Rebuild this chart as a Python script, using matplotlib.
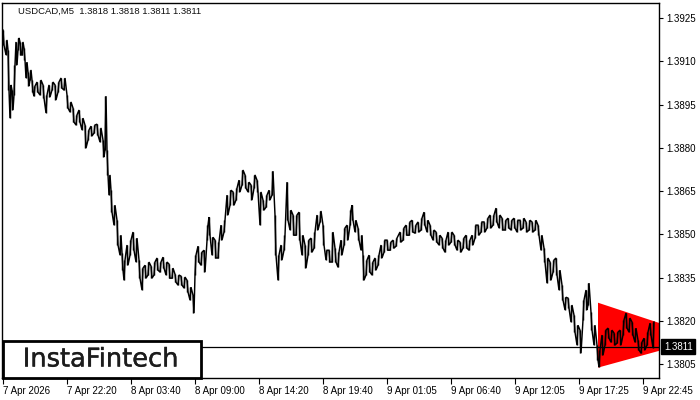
import matplotlib
matplotlib.use("Agg")
import matplotlib.pyplot as plt
from matplotlib.patches import Rectangle, Polygon
import matplotlib.patheffects as pe
import numpy as np

# ---------------- data ----------------
symbol_title = "USDCAD,M5  1.3818 1.3818 1.3811 1.3811"
bar = [0, 3, 5, 7, 9, 11, 13, 15, 17, 19, 21, 23, 25, 27, 29, 31, 34, 37, 40, 43,
       46, 49, 52, 55, 58, 61, 64, 67, 70, 73, 76, 79, 82, 85, 88, 91, 94, 97, 100, 102,
       104, 106, 108, 111, 114, 117, 119, 121, 124, 127, 130, 133, 136, 139, 142, 145, 148, 151, 154, 157,
       160, 163, 166, 169, 172, 175, 178, 181, 184, 187, 190, 192, 195, 198, 201, 204, 206, 209, 212, 215,
       218, 221, 224, 227, 230, 233, 236, 239, 242, 245, 248, 251, 254, 257, 260, 263, 266, 269, 272, 275,
       278, 281, 284, 287, 290, 293, 296, 299, 302, 305, 308, 311, 314, 317, 320, 323, 326, 329, 332, 335,
       338, 341, 344, 347, 349, 352, 355, 358, 360, 363, 366, 369, 372, 375, 378, 381, 384, 387, 390, 393,
       397, 400, 403, 406, 409, 412, 415, 418, 421, 424, 427, 430, 433, 436, 439, 442, 445, 448, 451, 454,
       457, 460, 463, 466, 469, 472, 475, 478, 481, 484, 487, 490, 493, 496, 499, 502, 505, 508, 511, 514,
       517, 520, 523, 526, 529, 532, 535, 538, 541, 544, 547, 550, 553, 556, 559, 562, 565, 568, 571, 574,
       577, 580, 583, 585, 588, 591, 594, 596, 599, 602, 605, 608, 611, 614, 617, 620, 623, 626, 629, 632,
       635, 638, 641, 644, 647, 650]
high = [1.39208, 1.39174, 1.39139, 1.39018, 1.39000, 1.39087, 1.39167, 1.39181, 1.39167, 1.39167,
        1.39146, 1.39097, 1.39063, 1.39070, 1.39035, 1.39014, 1.39028, 1.39035, 1.39018, 1.38983,
        1.39018, 1.39028, 1.39018, 1.39028, 1.39042, 1.39042, 1.38983, 1.38959, 1.38938, 1.38914,
        1.38931, 1.38903, 1.38879, 1.38862, 1.38875, 1.38879, 1.38882, 1.38869, 1.38827, 1.38979,
        1.38792, 1.38706, 1.38653, 1.38601, 1.38549, 1.38497, 1.38435, 1.38411, 1.38463, 1.38480,
        1.38508, 1.38487, 1.38411, 1.38383, 1.38393, 1.38404, 1.38390, 1.38404, 1.38418, 1.38404,
        1.38421, 1.38404, 1.38397, 1.38383, 1.38362, 1.38359, 1.38355, 1.38352, 1.38341, 1.38317,
        1.38289, 1.38428, 1.38459, 1.38438, 1.38445, 1.38532, 1.38560, 1.38490, 1.38480, 1.38473,
        1.38532, 1.38549, 1.38636, 1.38653, 1.38647, 1.38660, 1.38688, 1.38723, 1.38706, 1.38681,
        1.38671, 1.38706, 1.38688, 1.38647, 1.38619, 1.38636, 1.38653, 1.38719, 1.38567, 1.38428,
        1.38463, 1.38497, 1.38681, 1.38584, 1.38567, 1.38567, 1.38577, 1.38497, 1.38463, 1.38480,
        1.38487, 1.38508, 1.38567, 1.38581, 1.38532, 1.38445, 1.38445, 1.38508, 1.38452, 1.38438,
        1.38480, 1.38522, 1.38532, 1.38584, 1.38601, 1.38549, 1.38522, 1.38497, 1.38428, 1.38411,
        1.38428, 1.38404, 1.38418, 1.38428, 1.38463, 1.38480, 1.38480, 1.38473, 1.38480, 1.38487,
        1.38508, 1.38522, 1.38532, 1.38543, 1.38549, 1.38532, 1.38543, 1.38556, 1.38577, 1.38549,
        1.38532, 1.38515, 1.38508, 1.38497, 1.38487, 1.38480, 1.38508, 1.38508, 1.38497, 1.38480,
        1.38473, 1.38487, 1.38497, 1.38480, 1.38497, 1.38532, 1.38532, 1.38543, 1.38543, 1.38556,
        1.38567, 1.38567, 1.38591, 1.38567, 1.38556, 1.38549, 1.38556, 1.38549, 1.38556, 1.38549,
        1.38549, 1.38556, 1.38543, 1.38549, 1.38543, 1.38549, 1.38532, 1.38497, 1.38452, 1.38418,
        1.38404, 1.38411, 1.38418, 1.38376, 1.38324, 1.38282, 1.38279, 1.38255, 1.38220, 1.38185,
        1.38168, 1.38272, 1.38307, 1.38331, 1.38230, 1.38185, 1.38116, 1.38099, 1.38151, 1.38168,
        1.38175, 1.38168, 1.38158, 1.38161, 1.38168, 1.38203, 1.38227, 1.38210, 1.38196, 1.38175,
        1.38133, 1.38126, 1.38140, 1.38161, 1.38192, 1.38196]
low = [1.39156, 1.39122, 1.39000, 1.38903, 1.38931, 1.38983, 1.39087, 1.39139, 1.39122, 1.39122,
       1.39104, 1.39042, 1.39014, 1.39035, 1.38993, 1.38979, 1.38993, 1.38983, 1.38973, 1.38921,
       1.38976, 1.39000, 1.38966, 1.38993, 1.39007, 1.39000, 1.38938, 1.38924, 1.38889, 1.38879,
       1.38889, 1.38862, 1.38799, 1.38827, 1.38841, 1.38851, 1.38844, 1.38820, 1.38768, 1.38792,
       1.38706, 1.38636, 1.38577, 1.38532, 1.38463, 1.38428, 1.38376, 1.38341, 1.38393, 1.38428,
       1.38445, 1.38404, 1.38348, 1.38307, 1.38348, 1.38359, 1.38348, 1.38359, 1.38376, 1.38369,
       1.38383, 1.38359, 1.38348, 1.38348, 1.38334, 1.38324, 1.38324, 1.38314, 1.38300, 1.38272,
       1.38227, 1.38359, 1.38404, 1.38393, 1.38369, 1.38480, 1.38497, 1.38428, 1.38418, 1.38418,
       1.38480, 1.38508, 1.38567, 1.38601, 1.38601, 1.38619, 1.38647, 1.38671, 1.38660, 1.38647,
       1.38619, 1.38660, 1.38647, 1.38532, 1.38584, 1.38594, 1.38619, 1.38636, 1.38428, 1.38341,
       1.38411, 1.38445, 1.38549, 1.38515, 1.38497, 1.38497, 1.38480, 1.38428, 1.38383, 1.38428,
       1.38438, 1.38452, 1.38515, 1.38543, 1.38463, 1.38411, 1.38404, 1.38404, 1.38404, 1.38386,
       1.38428, 1.38463, 1.38480, 1.38532, 1.38549, 1.38508, 1.38480, 1.38445, 1.38341, 1.38359,
       1.38369, 1.38359, 1.38376, 1.38393, 1.38418, 1.38438, 1.38445, 1.38445, 1.38452, 1.38459,
       1.38473, 1.38480, 1.38497, 1.38497, 1.38508, 1.38504, 1.38508, 1.38515, 1.38532, 1.38508,
       1.38497, 1.38480, 1.38473, 1.38463, 1.38452, 1.38438, 1.38463, 1.38473, 1.38463, 1.38445,
       1.38438, 1.38452, 1.38452, 1.38445, 1.38463, 1.38487, 1.38497, 1.38508, 1.38508, 1.38522,
       1.38522, 1.38532, 1.38543, 1.38522, 1.38515, 1.38515, 1.38522, 1.38515, 1.38522, 1.38508,
       1.38515, 1.38522, 1.38508, 1.38515, 1.38508, 1.38515, 1.38497, 1.38445, 1.38404, 1.38331,
       1.38341, 1.38369, 1.38359, 1.38307, 1.38272, 1.38238, 1.38244, 1.38196, 1.38161, 1.38116,
       1.38088, 1.38203, 1.38238, 1.38255, 1.38168, 1.38116, 1.38064, 1.38040, 1.38081, 1.38116,
       1.38140, 1.38126, 1.38116, 1.38123, 1.38116, 1.38151, 1.38175, 1.38161, 1.38151, 1.38126,
       1.38099, 1.38088, 1.38099, 1.38116, 1.38151, 1.38106]
last_price = 1.3811

# triangle pattern (start bar / right edge bar, upper & lower bounds)
pattern_bars = [595, 656]
pattern_upper = [1.38263, 1.38193]
pattern_lower = [1.38038, 1.38096]

y_ticks = [1.3805, 1.3820, 1.3835, 1.3850, 1.3865, 1.3880, 1.3895, 1.3910, 1.3925]
x_tick_bars = [0, 64, 128, 192, 256, 320, 384, 448, 512, 576, 640]
x_tick_labels = ["7 Apr 2026", "7 Apr 22:20", "8 Apr 03:40", "8 Apr 09:00", "8 Apr 14:20",
                 "8 Apr 19:40", "9 Apr 01:05", "9 Apr 06:40", "9 Apr 12:05", "9 Apr 17:25",
                 "9 Apr 22:45"]

# ---------------- figure ----------------
W, H = 700, 400
fig = plt.figure(figsize=(W / 100, H / 100), dpi=100)
ax = fig.add_axes([2 / W, 22 / H, 657 / W, 375 / H])
ax.set_xlim(-1, 656)
ax.set_ylim(1.38002, 1.39302)

tick_font = dict(family="Liberation Sans", size=7)

# triangle
poly = Polygon([(pattern_bars[0], pattern_upper[0]), (pattern_bars[1], pattern_upper[1]),
                (pattern_bars[1], pattern_lower[1]), (pattern_bars[0], pattern_lower[0])],
               closed=True, facecolor="#ff0000", edgecolor="none", zorder=2)
ax.add_patch(poly)

# price bars as zigzag high/low path
xs, ys = [], []
for i, b in enumerate(bar):
    if i % 2 == 0:
        xs += [b, b + 1]
        ys += [high[i], low[i]]
    else:
        xs += [b, b + 1]
        ys += [low[i], high[i]]
ax.plot(xs, ys, color="black", lw=1.05, zorder=3, solid_joinstyle="miter")
ax.vlines(bar, low, high, color="black", lw=1.05, zorder=3)

# last price line
ax.axhline(last_price, color="black", lw=0.9, zorder=2.5)

# axes styling
for s in ax.spines.values():
    s.set_color("black")
    s.set_linewidth(1.0)
ax.yaxis.tick_right()
ax.set_yticks(y_ticks)
ax.set_yticklabels([f"{v:.4f}" for v in y_ticks], fontdict=tick_font)
ax.tick_params(axis="y", direction="out", length=3, width=0.8, pad=2, colors="black")
ax.set_xticks(x_tick_bars)
ax.set_xticklabels(x_tick_labels, fontdict=tick_font, ha="left")
ax.tick_params(axis="x", direction="out", length=4, width=0.8, pad=2, colors="black")

# last price tag
ax.text(1.0075, last_price, "1.3811", transform=ax.get_yaxis_transform(),
        ha="left", va="center", color="white", fontsize=7, family="Liberation Sans",
        zorder=5, clip_on=False,
        bbox=dict(boxstyle="square,pad=0.25", facecolor="black", edgecolor="black"))

# title
fig.text(18 / W, 1 - 11 / H, symbol_title, ha="left", va="center",
         fontsize=6.8, family="Liberation Sans", color="#101010")

# logo box
fig.add_artist(Rectangle((3 / W, 22 / H), 198 / W, 37 / H, transform=fig.transFigure,
                         facecolor="white", edgecolor="black", lw=2, zorder=5))
fig.text(101 / W, 1 - 359.5 / H, "InstaFintech", ha="center", va="center",
         fontsize=18.5, family="DejaVu Sans", color="#1c1c1c", zorder=6,
         path_effects=[pe.withStroke(linewidth=0.3, foreground="#1c1c1c")])

fig.savefig("out.png", dpi=100)
